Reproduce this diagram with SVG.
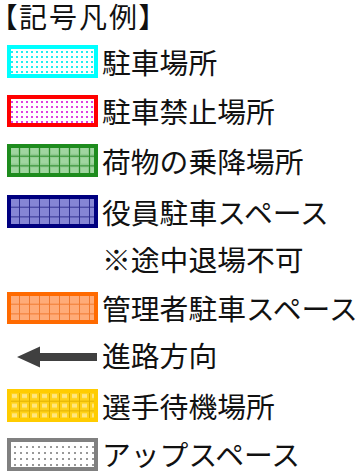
<svg xmlns="http://www.w3.org/2000/svg" width="361" height="472" viewBox="0 0 361 472">
<style>
text{font-family:"Noto Sans CJK JP","Noto Sans CJK SC",sans-serif;font-size:28.8px;fill:#111}
.title{font-feature-settings:"palt";font-size:28px;letter-spacing:2px}
.box{stroke-width:4}
</style>
<defs>
<pattern id="pCyan" width="5" height="5" patternUnits="userSpaceOnUse">
<rect width="5" height="5" fill="#fff"/><rect x="1" y="1" width="2" height="2" fill="#2ee"/>
</pattern>
<pattern id="pRed" width="5" height="5" patternUnits="userSpaceOnUse">
<rect width="5" height="5" fill="#fff"/><rect x="1" y="1" width="2" height="2" fill="#e040e0"/>
</pattern>
<pattern id="pGreen" width="10" height="9.7" patternUnits="userSpaceOnUse" x="9" y="146">
<rect width="10" height="9.7" fill="#8cc88c"/><rect x="2" y="2" width="7" height="6" fill="#a5d8a5" opacity="0.8"/>
<path d="M0 0.5H10M0.5 0V9.7" stroke="#2a8a2a" stroke-width="1"/>
</pattern>
<pattern id="pBlue" width="10" height="9.7" patternUnits="userSpaceOnUse" x="9" y="197">
<rect width="10" height="9.7" fill="#8585d5"/>
<path d="M0 0.5H10M0.5 0V9.7" stroke="#303090" stroke-width="1"/>
</pattern>
<pattern id="pOrange" width="10" height="9.7" patternUnits="userSpaceOnUse" x="9" y="294">
<rect width="10" height="9.7" fill="#ffab78"/>
<path d="M0 0.5H10M0.5 0V9.7" stroke="#f07a30" stroke-width="1"/>
</pattern>
<pattern id="pYellow" width="10" height="9.7" patternUnits="userSpaceOnUse" x="9" y="391">
<rect width="10" height="9.7" fill="#ffd21a"/><rect x="3" y="3" width="5" height="4" fill="#ffe680"/>
<path d="M0 0.5H10M0.5 0V9.7" stroke="#e0b000" stroke-width="1"/>
</pattern>
<pattern id="pGray" width="6" height="6" patternUnits="userSpaceOnUse">
<rect width="6" height="6" fill="#fff"/><rect x="2" y="2" width="2" height="2" fill="#999"/>
</pattern>
</defs>
<g id="title"><text class="title" x="3" y="28">【記号凡例】</text></g>
<g id="parking"><rect class="box" x="9" y="47" width="87" height="29" fill="url(#pCyan)" stroke="#00ffff"/><text x="102" y="74">駐車場所</text></g>
<g id="no-parking"><rect class="box" x="9" y="97" width="87" height="28" fill="url(#pRed)" stroke="#ff0000"/><text x="102" y="123">駐車禁止場所</text></g>
<g id="loading"><rect class="box" x="9" y="146" width="87" height="29" fill="url(#pGreen)" stroke="#1e8c1e"/><text x="102" y="172.5">荷物の乗降場所</text></g>
<g id="staff"><rect class="box" x="9" y="197" width="87" height="29" fill="url(#pBlue)" stroke="#000080"/><text x="102" y="223.5">役員駐車スペース</text></g>
<g id="note"><text x="102" y="271">※途中退場不可</text></g>
<g id="manager"><rect class="box" x="9" y="294" width="87" height="28" fill="url(#pOrange)" stroke="#ff6a00"/><text x="102" y="320">管理者駐車スペース</text></g>
<g id="direction"><path d="M17 357L40 346.5V353H97V361H40V367.5Z" fill="#404040"/><text x="102" y="367">進路方向</text></g>
<g id="waiting"><rect class="box" x="9" y="391" width="87" height="29" fill="url(#pYellow)" stroke="#ffcc00"/><text x="102" y="417.5">選手待機場所</text></g>
<g id="warmup"><rect class="box" x="9" y="440" width="87" height="29" fill="url(#pGray)" stroke="#808080"/><text x="102" y="466">アップスペース</text></g>
<g id="connectors"/>
</svg>
